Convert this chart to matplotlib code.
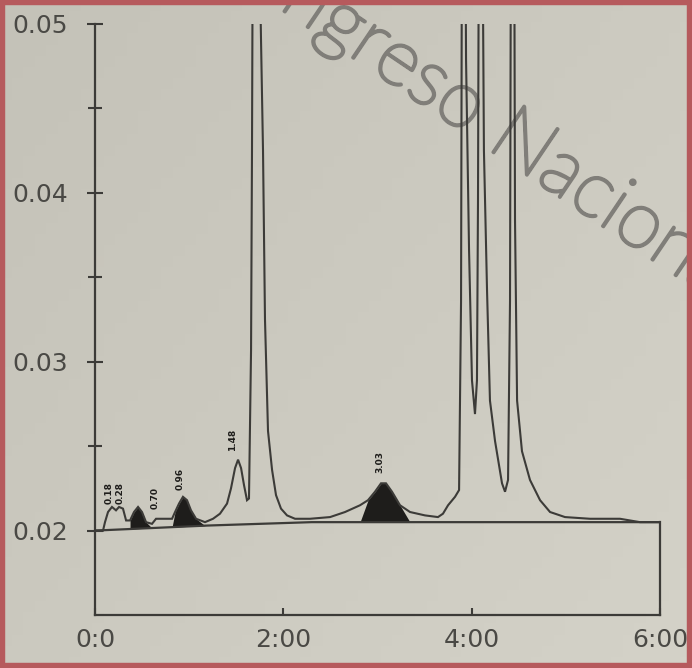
import numpy as np
import matplotlib
matplotlib.use("Agg")
import matplotlib.pyplot as plt
import matplotlib.patheffects as pe
from matplotlib.patches import Rectangle

# ---- data (time in minutes, absorbance in AU) ----
trace_time = [0.000, 0.085, 0.106, 0.138, 0.180, 0.223, 0.255, 0.297, 0.330, 0.372,
              0.414, 0.457, 0.499, 0.542, 0.605, 0.648, 0.818, 0.850, 0.892, 0.934,
              0.977, 1.019, 1.073, 1.168, 1.253, 1.327, 1.402, 1.444, 1.487, 1.519,
              1.551, 1.582, 1.614, 1.635, 1.657, 1.667, 1.678, 1.731, 1.763, 1.784,
              1.805, 1.837, 1.880, 1.922, 1.975, 2.039, 2.124, 2.283, 2.496, 2.655,
              2.814, 2.899, 2.973, 3.037, 3.090, 3.154, 3.239, 3.345, 3.504, 3.642,
              3.695, 3.749, 3.823, 3.866, 3.887, 3.892, 3.898, 3.930, 3.940, 3.972,
              4.003, 4.035, 4.056, 4.067, 4.078, 4.110, 4.130, 4.163, 4.194, 4.248,
              4.322, 4.354, 4.386, 4.407, 4.418, 4.450, 4.460, 4.482, 4.534, 4.619,
              4.726, 4.832, 4.991, 5.257, 5.575, 5.787, 6.000]
trace_abs = [0.0200, 0.0200, 0.0205, 0.0211, 0.0214, 0.0212, 0.0214, 0.0213, 0.0206, 0.0206,
             0.0211, 0.0214, 0.0211, 0.0205, 0.0204, 0.0207, 0.0207, 0.0211, 0.0216, 0.0220,
             0.0218, 0.0212, 0.0207, 0.0205, 0.0207, 0.0210, 0.0216, 0.0225, 0.0237, 0.0242,
             0.0237, 0.0227, 0.0218, 0.0219, 0.0307, 0.0425, 0.0600, 0.0600, 0.0490, 0.0425,
             0.0325, 0.0259, 0.0236, 0.0221, 0.0213, 0.0209, 0.0207, 0.0207, 0.0208, 0.0211,
             0.0215, 0.0218, 0.0223, 0.0228, 0.0228, 0.0223, 0.0215, 0.0211, 0.0209, 0.0208,
             0.0210, 0.0215, 0.0220, 0.0224, 0.0336, 0.0455, 0.0600, 0.0600, 0.0479, 0.0366,
             0.0289, 0.0269, 0.0289, 0.0396, 0.0600, 0.0600, 0.0425, 0.0342, 0.0277, 0.0253,
             0.0228, 0.0223, 0.0230, 0.0336, 0.0600, 0.0600, 0.0384, 0.0277, 0.0247, 0.0230,
             0.0218, 0.0211, 0.0208, 0.0207, 0.0207, 0.0205, 0.0205]

baseline_time = [0.0, 1.2, 2.3, 6.0]
baseline_abs = [0.0200, 0.0203, 0.0205, 0.0205]

filled_windows = [(0.37, 0.56), (0.83, 1.10), (2.85, 3.32)]

peak_labels = ["0.18", "0.28", "0.70", "0.96", "1.48", "3.03"]
peak_label_time = [0.15, 0.27, 0.64, 0.90, 1.46, 3.03]
peak_label_abs = [0.0216, 0.0216, 0.0213, 0.0224, 0.0247, 0.0234]

y_ticks = [0.02, 0.03, 0.04, 0.05]
y_tick_labels = ["0.02", "0.03", "0.04", "0.05"]
y_minor = [0.025, 0.035, 0.045]
x_ticks = [0, 2, 4, 6]
x_tick_labels = ["0:0", "2:00", "4:00", "6:00"]

ink = "#3c3b38"
text_ink = "#4a4945"

fig = plt.figure(figsize=(6.92, 6.68), dpi=100)

# paper-like background
bg = fig.add_axes([0, 0, 1, 1], zorder=-2)
gy, gx = np.mgrid[0:1:60j, 0:1:60j]
base = np.array([196, 194, 184]) / 255.0
light = np.array([212, 210, 200]) / 255.0
w = np.clip(0.55 * gx + 0.45 * gy, 0, 1)[..., None]
bg.imshow(base * (1 - w) + light * w, extent=[0, 1, 0, 1], aspect="auto", origin="upper")
bg.set_axis_off()

# watermark
wm_color = "#807e79"
fig.text(0.684, 0.830, "Congreso Nacional", fontsize=57, family="Lato", fontweight="light",
         color=wm_color, rotation=-34, rotation_mode="anchor",
         ha="center", va="center", zorder=-1,
         path_effects=[pe.withStroke(linewidth=2.4, foreground=wm_color)])

ax = fig.add_axes([0.1373, 0.0793, 0.8165, 0.8848], zorder=0)
ax.set_facecolor("none")

t = np.array(trace_time)
a = np.array(trace_abs)
bl = np.interp(t, baseline_time, baseline_abs)

for lo, hi in filled_windows:
    m = (t >= lo) & (t <= hi)
    ax.fill_between(t, bl, a, where=m, interpolate=True, color="#1e1d1b", lw=0)

ax.plot(baseline_time, baseline_abs, color=ink, lw=1.6)
ax.plot(t, a, color=ink, lw=1.5, solid_joinstyle="miter")

for lab, lt, la in zip(peak_labels, peak_label_time, peak_label_abs):
    ax.text(lt, la, lab, rotation=90, fontsize=6.5, fontweight="bold", color="#1e1d1b",
            ha="center", va="bottom")

ax.set_xlim(0, 6)
ax.set_ylim(0.015, 0.050)
ax.spines["top"].set_visible(False)
ax.spines["right"].set_bounds(0.015, baseline_abs[-1])
for s in ["left", "bottom", "right"]:
    ax.spines[s].set_color(ink)
    ax.spines[s].set_linewidth(1.6)

ax.set_yticks(y_ticks)
ax.set_yticklabels(y_tick_labels)
ax.set_yticks(y_minor, minor=True)
ax.tick_params(axis="y", which="major", direction="inout", length=11, width=1.5,
               color=ink, labelsize=18, labelcolor=text_ink, pad=14)
ax.tick_params(axis="y", which="minor", direction="inout", length=10, width=1.5, color=ink)
ax.set_xticks(x_ticks)
ax.set_xticklabels(x_tick_labels)
ax.tick_params(axis="x", which="major", direction="in", length=5, width=1.5,
               color=ink, labelsize=18, labelcolor=text_ink, pad=9)
ax.tick_params(axis="y", which="major", right=False)

# red photo border
fig.patches.append(Rectangle((0, 0), 1, 1, transform=fig.transFigure, fill=False,
                             edgecolor="#b65a5d", lw=7.5, zorder=5))

fig.savefig("out.png", dpi=100)
